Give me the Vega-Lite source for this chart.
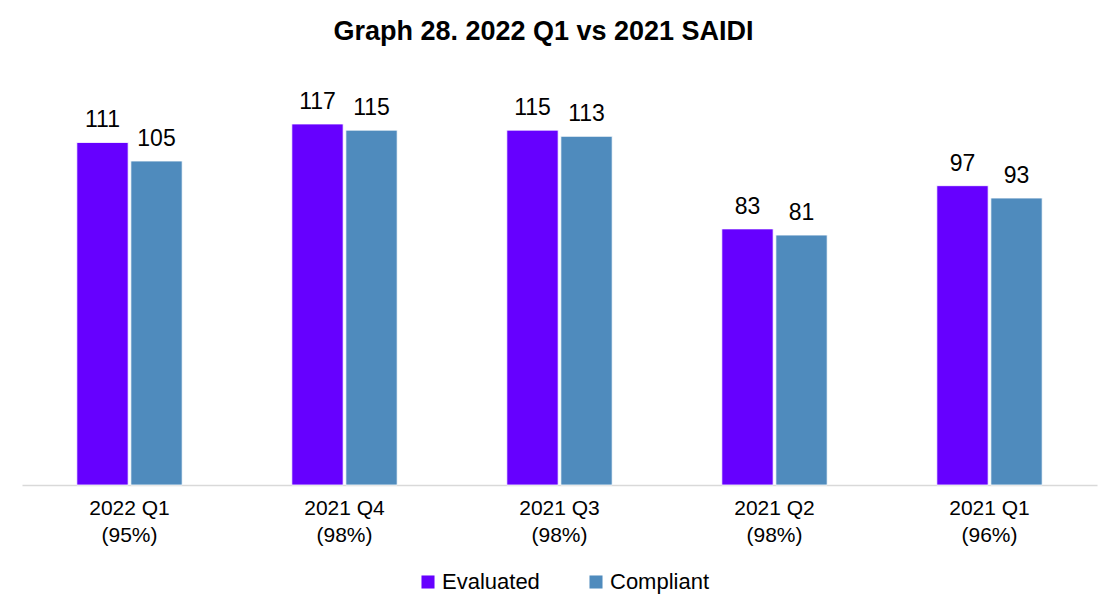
{
  "$schema": "https://vega.github.io/schema/vega-lite/v6.json",
  "autosize": {"type": "none"},
  "width": 1075,
  "height": 432,
  "padding": {"left": 22, "top": 53, "right": 2, "bottom": 112},
  "background": "white",
  "title": {
    "text": "Graph 28. 2022 Q1 vs 2021 SAIDI",
    "font": "Liberation Sans",
    "fontSize": 27,
    "fontWeight": "bold",
    "color": "#000000",
    "anchor": "middle",
    "dx": -16,
    "offset": 7
  },
  "data": {
    "values": [
      {"period": "2022 Q1|(95%)", "series": "Evaluated", "value": 111},
      {"period": "2022 Q1|(95%)", "series": "Compliant", "value": 105},
      {"period": "2021 Q4|(98%)", "series": "Evaluated", "value": 117},
      {"period": "2021 Q4|(98%)", "series": "Compliant", "value": 115},
      {"period": "2021 Q3|(98%)", "series": "Evaluated", "value": 115},
      {"period": "2021 Q3|(98%)", "series": "Compliant", "value": 113},
      {"period": "2021 Q2|(98%)", "series": "Evaluated", "value": 83},
      {"period": "2021 Q2|(98%)", "series": "Compliant", "value": 81},
      {"period": "2021 Q1|(96%)", "series": "Evaluated", "value": 97},
      {"period": "2021 Q1|(96%)", "series": "Compliant", "value": 93}
    ]
  },
  "encoding": {
    "x": {
      "field": "period",
      "type": "nominal",
      "sort": null,
      "scale": {"paddingInner": 0.51, "paddingOuter": 0.255},
      "axis": {
        "title": null,
        "labelAngle": 0,
        "labelExpr": "split(datum.label, '|')",
        "labelFont": "Liberation Sans",
        "labelFontSize": 21,
        "labelColor": "#000000",
        "labelLineHeight": 27,
        "labelPadding": 12,
        "ticks": false,
        "domainColor": "#d9d9d9",
        "domainWidth": 1.5
      }
    },
    "xOffset": {
      "field": "series",
      "type": "nominal",
      "sort": ["Evaluated", "Compliant"],
      "scale": {"paddingInner": 0.05}
    },
    "y": {
      "field": "value",
      "type": "quantitative",
      "scale": {"domain": [0, 140], "nice": false},
      "axis": null
    }
  },
  "layer": [
    {
      "mark": {"type": "bar", "stroke": "#ffffff", "strokeWidth": 0.8},
      "encoding": {
        "color": {
          "field": "series",
          "type": "nominal",
          "sort": ["Evaluated", "Compliant"],
          "scale": {"domain": ["Evaluated", "Compliant"], "range": ["#6600ff", "#4f8bbd"]},
          "legend": {
            "title": null,
            "orient": "none",
            "direction": "horizontal",
            "legendX": 395,
            "legendY": 518,
            "symbolType": "square",
            "symbolSize": 170,
            "symbolStrokeWidth": 0,
            "labelFont": "Liberation Sans",
            "labelFontSize": 22,
            "labelColor": "#000000",
            "labelOffset": 3,
            "columnPadding": 45
          }
        }
      }
    },
    {
      "mark": {"type": "text", "dy": -22, "font": "Liberation Sans", "fontSize": 23, "color": "#000000"},
      "encoding": {
        "text": {"field": "value", "type": "quantitative"}
      }
    }
  ],
  "config": {
    "view": {"stroke": null}
  }
}
